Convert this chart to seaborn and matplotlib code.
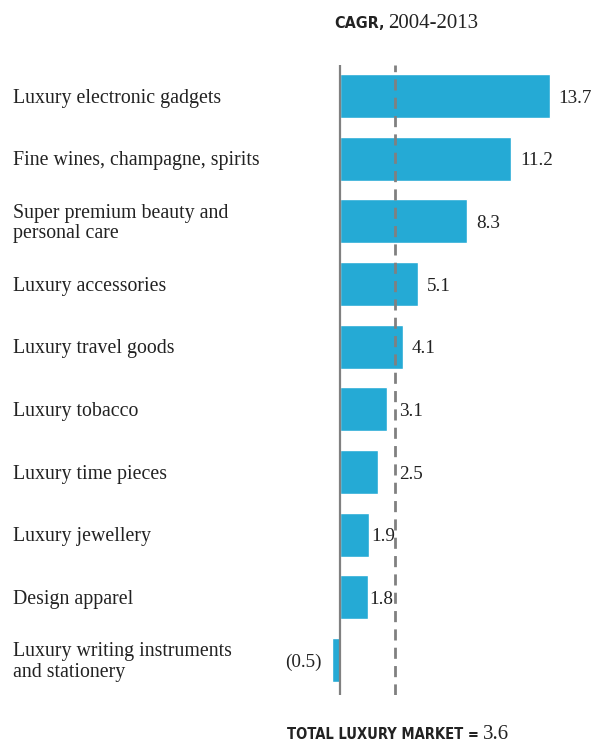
import matplotlib
matplotlib.use("Agg")
import matplotlib.pyplot as plt
import matplotlib.transforms as mtransforms
import seaborn as sns
import pandas as pd

categories = [
    "Luxury electronic gadgets",
    "Fine wines, champagne, spirits",
    "Super premium beauty and\npersonal care",
    "Luxury accessories",
    "Luxury travel goods",
    "Luxury tobacco",
    "Luxury time pieces",
    "Luxury jewellery",
    "Design apparel",
    "Luxury writing instruments\nand stationery",
]
cagr = [13.7, 11.2, 8.3, 5.1, 4.1, 3.1, 2.5, 1.9, 1.8, -0.5]
total_market = 3.6
title_bold = "CAGR,"
title_rest = "2004-2013"
footer_bold = "TOTAL LUXURY MARKET ="
footer_rest = "3.6"

BAR = "#25aad5"
GREY = "#808080"
TEXT = "#222222"
SERIF = ["Liberation Serif", "DejaVu Serif"]

sns.set_theme(style="white")
plt.rcParams["font.family"] = SERIF

W, H = 593, 744
fig = plt.figure(figsize=(W / 100, H / 100), dpi=100)

# axes box in pixels: zero line at x=340, rows spanning y=65..695
left_px, right_px = 300, 593
top_px, bot_px = 65, 695
ax = fig.add_axes([left_px / W, 1 - bot_px / H, (right_px - left_px) / W, (bot_px - top_px) / H])

df = pd.DataFrame({"category": categories, "cagr": cagr})
sns.barplot(data=df, x="cagr", y="category", orient="h", color=BAR,
            saturation=1, width=0.70, ax=ax)

px_per_unit = 15.3
ax.set_xlim(-(340 - left_px) / px_per_unit, (right_px - 340) / px_per_unit)
ax.set_ylim(9.56, -0.495)

for s in ax.spines.values():
    s.set_visible(False)
ax.set_xticks([])
ax.set_yticks([])
ax.set_xlabel("")
ax.set_ylabel("")

ax.axvline(0, color=GREY, lw=1.6, zorder=3)
ax.axvline(total_market, color=GREY, lw=2.0, ls=(0, (4, 2.6)), zorder=3)

VAL_SIZE = 13.8
fig.canvas.draw()
renderer = fig.canvas.get_renderer()


def label_width_units(s):
    t = ax.text(0, 0, s, fontsize=VAL_SIZE)
    w = t.get_window_extent(renderer).width
    t.remove()
    return w / px_per_unit


# value labels: beside the bar, tucked before the dashed line when they fit,
# otherwise pushed just past it
for i, v in enumerate(cagr):
    if v < 0:
        ax.annotate(f"({abs(v):.1f})", (v, i), xytext=(-7.5, -1.5), textcoords="offset points",
                    ha="right", va="center", fontsize=VAL_SIZE, color=TEXT)
        continue
    s = f"{v:.1f}"
    anchor, off = v, 6.5
    if v < total_market:
        if v + label_width_units(s) + 1.5 / px_per_unit < total_market:
            off = 1.5
        else:
            anchor, off = total_market, 3.0
    ax.annotate(s, (anchor, i), xytext=(off, -1.5), textcoords="offset points",
                ha="left", va="center", fontsize=VAL_SIZE, color=TEXT)

# category labels at the left edge of the figure
trans = mtransforms.blended_transform_factory(fig.transFigure, ax.transData)
trans = mtransforms.offset_copy(trans, fig=fig, x=0, y=-1.5, units="points")
for i, c in enumerate(categories):
    ax.text(13 / W, i, c, transform=trans, ha="left", va="center",
            fontsize=14.3, color=TEXT, linespacing=1.08, clip_on=False)


# two-font title and footer lines
def two_part(x_px, y_px, bold, rest, size_b, size_r):
    t1 = fig.text(x_px / W, 1 - y_px / H, bold, family="DejaVu Sans", fontstretch="condensed",
                  fontweight="bold", fontsize=size_b, color=TEXT, ha="left", va="baseline")
    fig.canvas.draw()
    bb = t1.get_window_extent()
    fig.text((bb.x1 + 4) / W, 1 - y_px / H, rest, family=SERIF, fontsize=size_r,
             color=TEXT, ha="left", va="baseline")


two_part(334, 28, title_bold, title_rest, 11.5, 15)
two_part(287, 739, footer_bold, footer_rest, 10.5, 15)

fig.savefig("out.png", dpi=100)
